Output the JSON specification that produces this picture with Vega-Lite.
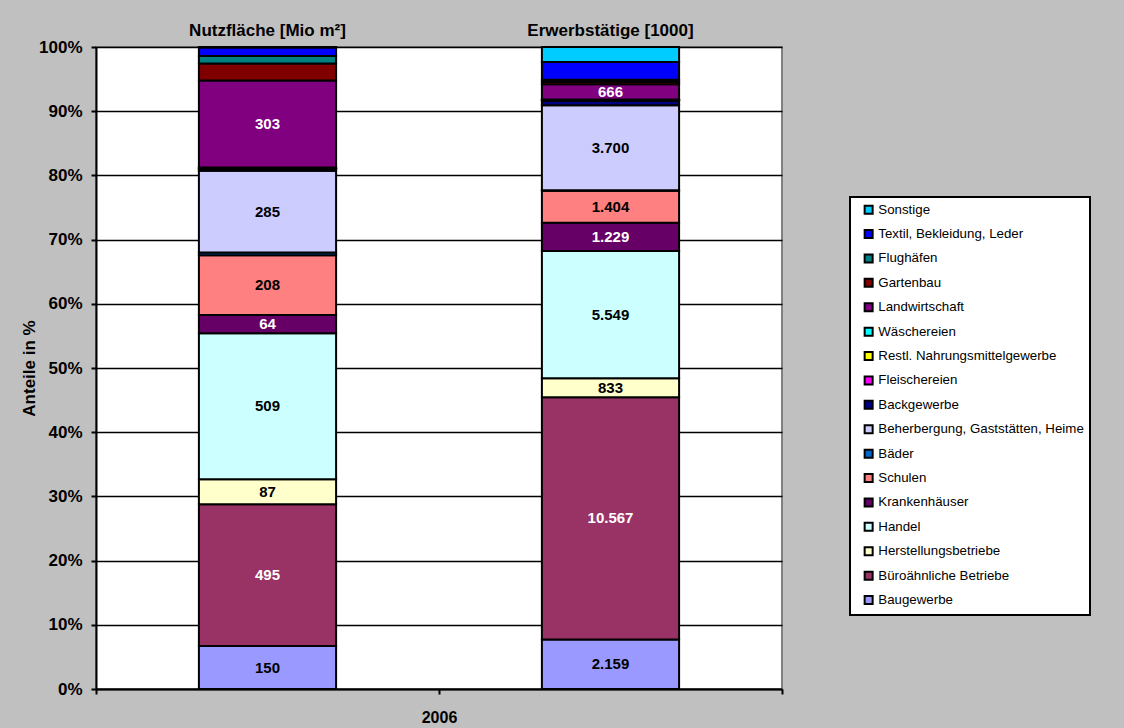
{
  "$schema": "https://vega.github.io/schema/vega-lite/v6.json",
  "width": 686,
  "height": 642,
  "autosize": {"type": "none"},
  "padding": {"left": 96, "top": 47, "right": 342, "bottom": 39},
  "background": "#C0C0C0",
  "config": {
    "locale": {"number": {"decimal": ",", "thousands": ".", "grouping": [3], "currency": ["", " €"]}},
    "font": "Liberation Sans",
    "view": {"fill": "#FFFFFF", "stroke": "#808080", "strokeWidth": 2},
    "legend": {"strokeColor": "#000000", "fillColor": "#FFFFFF", "strokeWidth": 2}
  },
  "data": {"values": [
    {"g": "Nutzfläche [Mio m²]", "cat": "Baugewerbe", "ord": 1, "v": 150},
    {"g": "Nutzfläche [Mio m²]", "cat": "Büroähnliche Betriebe", "ord": 2, "v": 495},
    {"g": "Nutzfläche [Mio m²]", "cat": "Herstellungsbetriebe", "ord": 3, "v": 87},
    {"g": "Nutzfläche [Mio m²]", "cat": "Handel", "ord": 4, "v": 509},
    {"g": "Nutzfläche [Mio m²]", "cat": "Krankenhäuser", "ord": 5, "v": 64},
    {"g": "Nutzfläche [Mio m²]", "cat": "Schulen", "ord": 6, "v": 208},
    {"g": "Nutzfläche [Mio m²]", "cat": "Bäder", "ord": 7, "v": 10},
    {"g": "Nutzfläche [Mio m²]", "cat": "Beherbergung, Gaststätten, Heime", "ord": 8, "v": 285},
    {"g": "Nutzfläche [Mio m²]", "cat": "Backgewerbe", "ord": 9, "v": 6},
    {"g": "Nutzfläche [Mio m²]", "cat": "Fleischereien", "ord": 10, "v": 2},
    {"g": "Nutzfläche [Mio m²]", "cat": "Restl. Nahrungsmittelgewerbe", "ord": 11, "v": 3},
    {"g": "Nutzfläche [Mio m²]", "cat": "Wäschereien", "ord": 12, "v": 1},
    {"g": "Nutzfläche [Mio m²]", "cat": "Landwirtschaft", "ord": 13, "v": 303},
    {"g": "Nutzfläche [Mio m²]", "cat": "Gartenbau", "ord": 14, "v": 59},
    {"g": "Nutzfläche [Mio m²]", "cat": "Flughäfen", "ord": 15, "v": 27},
    {"g": "Nutzfläche [Mio m²]", "cat": "Textil, Bekleidung, Leder", "ord": 16, "v": 29},
    {"g": "Nutzfläche [Mio m²]", "cat": "Sonstige", "ord": 17, "v": 2},
    {"g": "Erwerbstätige [1000]", "cat": "Baugewerbe", "ord": 1, "v": 2159},
    {"g": "Erwerbstätige [1000]", "cat": "Büroähnliche Betriebe", "ord": 2, "v": 10567},
    {"g": "Erwerbstätige [1000]", "cat": "Herstellungsbetriebe", "ord": 3, "v": 833},
    {"g": "Erwerbstätige [1000]", "cat": "Handel", "ord": 4, "v": 5549},
    {"g": "Erwerbstätige [1000]", "cat": "Krankenhäuser", "ord": 5, "v": 1229},
    {"g": "Erwerbstätige [1000]", "cat": "Schulen", "ord": 6, "v": 1404},
    {"g": "Erwerbstätige [1000]", "cat": "Bäder", "ord": 7, "v": 20},
    {"g": "Erwerbstätige [1000]", "cat": "Beherbergung, Gaststätten, Heime", "ord": 8, "v": 3700},
    {"g": "Erwerbstätige [1000]", "cat": "Backgewerbe", "ord": 9, "v": 200},
    {"g": "Erwerbstätige [1000]", "cat": "Fleischereien", "ord": 10, "v": 20},
    {"g": "Erwerbstätige [1000]", "cat": "Restl. Nahrungsmittelgewerbe", "ord": 11, "v": 20},
    {"g": "Erwerbstätige [1000]", "cat": "Wäschereien", "ord": 12, "v": 20},
    {"g": "Erwerbstätige [1000]", "cat": "Landwirtschaft", "ord": 13, "v": 666},
    {"g": "Erwerbstätige [1000]", "cat": "Gartenbau", "ord": 14, "v": 100},
    {"g": "Erwerbstätige [1000]", "cat": "Flughäfen", "ord": 15, "v": 90},
    {"g": "Erwerbstätige [1000]", "cat": "Textil, Bekleidung, Leder", "ord": 16, "v": 780},
    {"g": "Erwerbstätige [1000]", "cat": "Sonstige", "ord": 17, "v": 650}
  ]},
  "layer": [
    {
      "mark": {"type": "bar", "width": {"band": 0.4}, "stroke": "#000000", "strokeWidth": 2},
      "encoding": {
        "x": {
          "field": "g", "type": "nominal", "sort": ["Nutzfläche [Mio m²]", "Erwerbstätige [1000]"],
          "scale": {"paddingInner": 0, "paddingOuter": 0},
          "axis": {
            "orient": "bottom", "labels": false, "title": "2006",
            "titleFont": "Liberation Sans", "titleFontSize": 16, "titleFontWeight": "bold", "titleColor": "#000000",
            "titlePadding": 14, "tickBand": "extent", "tickColor": "#000000", "tickWidth": 2, "tickSize": 5,
            "domainColor": "#000000", "domainWidth": 2, "grid": false
          }
        },
        "y": {
          "field": "v", "type": "quantitative", "stack": "normalize",
          "scale": {"domain": [0, 1], "nice": false},
          "axis": {
            "title": "Anteile in %", "format": ".0%", "values": [0, 0.1, 0.2, 0.3, 0.4, 0.5, 0.6, 0.7, 0.8, 0.9, 1],
            "labelFont": "Liberation Sans", "labelFontSize": 17, "labelFontWeight": "bold", "labelColor": "#000000", "labelPadding": 9,
            "titleFont": "Liberation Sans", "titleFontSize": 17, "titleFontWeight": "bold", "titleColor": "#000000", "titlePadding": 0,
            "grid": true, "gridColor": "#000000", "gridWidth": 1.5,
            "tickColor": "#000000", "tickWidth": 2, "tickSize": 5,
            "domainColor": "#000000", "domainWidth": 2
          }
        },
        "color": {
          "field": "cat", "type": "nominal",
          "scale": {
            "domain": ["Sonstige", "Textil, Bekleidung, Leder", "Flughäfen", "Gartenbau", "Landwirtschaft", "Wäschereien", "Restl. Nahrungsmittelgewerbe", "Fleischereien", "Backgewerbe", "Beherbergung, Gaststätten, Heime", "Bäder", "Schulen", "Krankenhäuser", "Handel", "Herstellungsbetriebe", "Büroähnliche Betriebe", "Baugewerbe"],
            "range": ["#00CCFF", "#0000FF", "#008080", "#800000", "#800080", "#00FFFF", "#FFFF00", "#FF00FF", "#000080", "#CCCCFF", "#0066CC", "#FF8080", "#660066", "#CCFFFF", "#FFFFCC", "#993366", "#9999FF"]
          },
          "legend": {
            "orient": "none", "legendX": 754, "legendY": 150, "title": null,
            "symbolType": "square", "symbolSize": 64, "symbolStrokeColor": "#000000", "symbolStrokeWidth": 2, "symbolOffset": 6,
            "labelFont": "Liberation Sans", "labelFontSize": 13.3, "labelColor": "#000000", "labelOffset": 3,
            "labelLimit": 300, "rowPadding": 7.4, "padding": 6
          }
        },
        "order": {"field": "ord", "type": "quantitative", "sort": "ascending"}
      }
    },
    {
      "mark": {"type": "text", "font": "Liberation Sans", "fontSize": 15, "fontWeight": "bold", "baseline": "middle"},
      "encoding": {
        "x": {
          "field": "g", "type": "nominal", "sort": ["Nutzfläche [Mio m²]", "Erwerbstätige [1000]"],
          "axis": {
            "orient": "top", "title": null, "ticks": false, "domain": false, "labelAngle": 0,
            "labelFont": "Liberation Sans", "labelFontSize": 17, "labelFontWeight": "bold", "labelColor": "#000000", "labelPadding": 8
          }
        },
        "y": {"field": "v", "type": "quantitative", "stack": "normalize", "bandPosition": 0.5},
        "detail": {"field": "cat"},
        "order": {"field": "ord", "type": "quantitative", "sort": "ascending"},
        "text": {
          "condition": {
            "test": "indexof(['Baugewerbe','Büroähnliche Betriebe','Herstellungsbetriebe','Handel','Krankenhäuser','Schulen','Beherbergung, Gaststätten, Heime','Landwirtschaft'], datum.cat) >= 0",
            "field": "v", "type": "quantitative", "format": ",.0f"
          },
          "value": ""
        },
        "color": {
          "condition": {"test": "indexof(['Büroähnliche Betriebe','Krankenhäuser','Landwirtschaft'], datum.cat) >= 0", "value": "#FFFFFF"},
          "value": "#000000"
        }
      }
    }
  ],
  "resolve": {"axis": {"x": "independent"}}
}
